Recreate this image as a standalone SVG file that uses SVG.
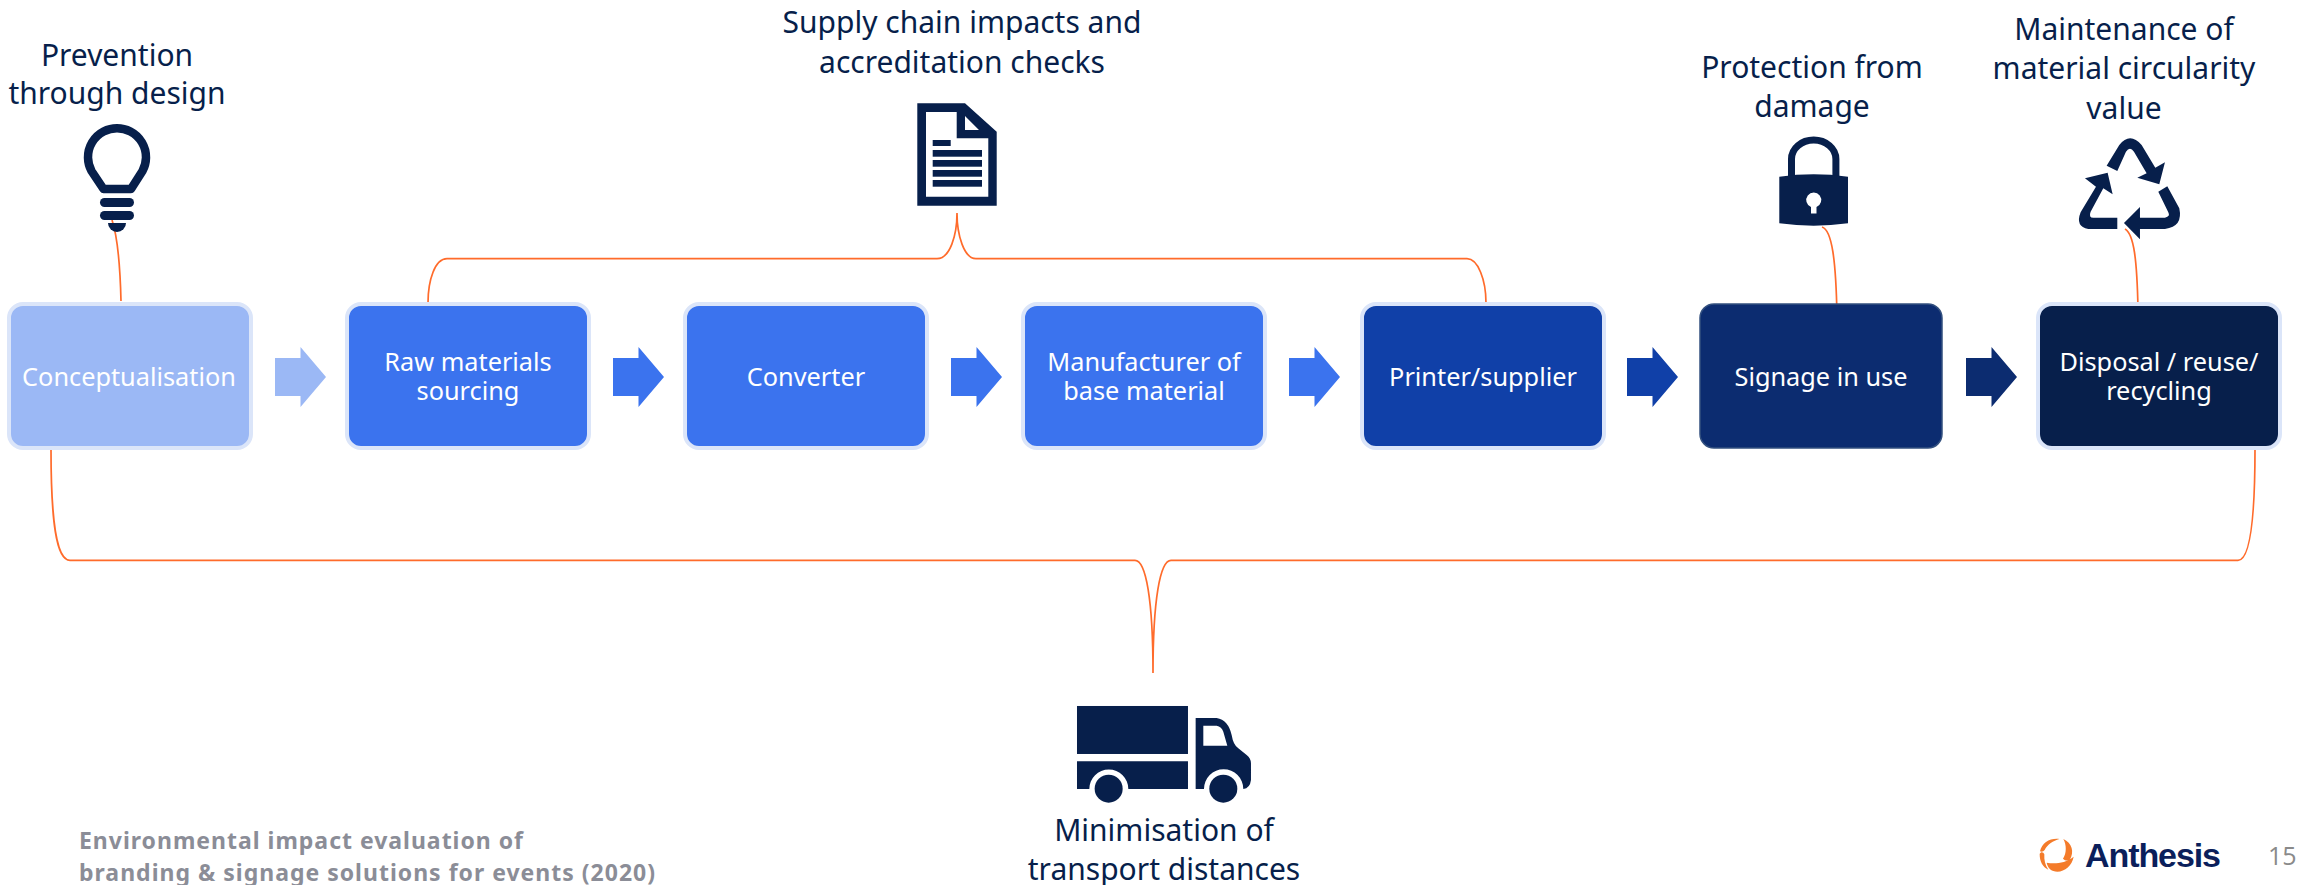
<svg xmlns="http://www.w3.org/2000/svg" width="2298" height="885" viewBox="0 0 2298 885">
<style>
.box{stroke:#dbe5f9;stroke-width:4}
.lbl{font-family:"Noto Sans","DejaVu Sans",sans-serif;font-size:30px;fill:#071f4b;text-anchor:middle}
.bt{font-family:"Noto Sans","DejaVu Sans",sans-serif;font-size:25.3px;fill:#fff;text-anchor:middle}
.ft{font-family:"Noto Sans","DejaVu Sans",sans-serif;font-size:23px;font-weight:bold;fill:#8b8d97}
.ic{fill:#071f4b}
.con{fill:none;stroke:#ff6b2b;stroke-width:1.7}
</style>
<defs>
<path id="arr" d="M0,-19 H25.500 V-30 L51,0 L25.500,30 V19 H0 Z"/>
</defs>
<rect width="2298" height="885" fill="#fff"/>
<g id="connectors">
<path class="con" d="M112,220 C116,232 120,260 121,301"/>
<path class="con" d="M428,303 C428,280 435,258.700 447,258.700 H937 C950,258.700 957,235 957,213 C957,235 964,258.700 976,258.700 H1467 C1478,258.700 1486,280 1486,303"/>
<path class="con" d="M1822,227 C1832,230 1836,260 1837,317"/>
<path class="con" d="M2125,229 C2134,234 2137,260 2138,309"/>
<path class="con" d="M51,449 C51,520 56,560.300 70,560.300 H1135 C1146,560.300 1153,600 1153,673 C1153,600 1160,560.300 1171,560.300 H2238 C2250,560.300 2255,520 2255,449"/>
</g>
<g id="flow-arrows">
<use href="#arr" x="275" y="377" fill="#9bb8f5"/>
<use href="#arr" x="613" y="377" fill="#3b73ee"/>
<use href="#arr" x="951" y="377" fill="#3b73ee"/>
<use href="#arr" x="1289" y="377" fill="#3b73ee"/>
<use href="#arr" x="1627" y="377" fill="#1040a8"/>
<use href="#arr" x="1966" y="377" fill="#0c2c70"/>
</g>
<g id="n1"><rect class="box" x="9" y="304" width="242" height="144" rx="14" fill="#9bb8f5"/><text class="bt" x="129" y="386">Conceptualisation</text></g>
<g id="n2"><rect class="box" x="347" y="304" width="242" height="144" rx="14" fill="#3b73ee"/><text class="bt" y="371"><tspan x="468">Raw materials</tspan><tspan x="468" dy="29">sourcing</tspan></text></g>
<g id="n3"><rect class="box" x="685" y="304" width="242" height="144" rx="14" fill="#3b73ee"/><text class="bt" x="806" y="386">Converter</text></g>
<g id="n4"><rect class="box" x="1023" y="304" width="242" height="144" rx="14" fill="#3b73ee"/><text class="bt" y="371"><tspan x="1144">Manufacturer of</tspan><tspan x="1144" dy="29">base material</tspan></text></g>
<g id="n5"><rect class="box" x="1362" y="304" width="242" height="144" rx="14" fill="#1040a8"/><text class="bt" x="1483" y="386">Printer/supplier</text></g>
<g id="n6"><rect x="1700" y="304" width="242" height="144" rx="14" fill="#0c2c70" stroke="#33507f" stroke-width="1.500"/><text class="bt" x="1821" y="386">Signage in use</text></g>
<g id="n7"><rect class="box" x="2038" y="304" width="242" height="144" rx="14" fill="#071f4b"/><text class="bt" y="371"><tspan x="2159">Disposal / reuse/</tspan><tspan x="2159" dy="29">recycling</tspan></text></g>
<g id="prevention">
<text class="lbl" x="117" y="66">Prevention</text><text class="lbl" x="117" y="104">through design</text>
<path d="M103.500,189 L91.500,171 A29,29 0 1 1 142.500,171 L131,189 Z" fill="none" stroke="#071f4b" stroke-width="8.500" stroke-linejoin="round"/>
<rect class="ic" x="100" y="198" width="34" height="9" rx="4.500"/><rect class="ic" x="100" y="211" width="34" height="9" rx="4.500"/>
<path class="ic" d="M108,223 H126 A9,9 0 0 1 108,223 Z"/>
</g>
<g id="supply">
<text class="lbl" x="962" y="33">Supply chain impacts and</text><text class="lbl" x="962" y="73">accreditation checks</text>
<path class="ic" fill-rule="evenodd" d="M917.300,103.300 H965 L996.700,131.700 V205.700 H917.300 Z M926,112 V196.700 H988.300 V138.300 H956.700 V112 Z M965,116 V130 H979 Z"/>
<rect class="ic" x="932.700" y="140" width="18" height="6"/>
<rect class="ic" x="932.700" y="150" width="49.300" height="6.700"/><rect class="ic" x="932.700" y="160" width="49.300" height="6.700"/><rect class="ic" x="932.700" y="170" width="49.300" height="6.700"/><rect class="ic" x="932.700" y="180" width="49.300" height="6.700"/>
</g>
<g id="protection">
<text class="lbl" x="1812" y="78">Protection from</text><text class="lbl" x="1812" y="117">damage</text>
<path d="M1791.500,177 V159 A22.200,19 0 0 1 1835.900,159 V177" fill="none" stroke="#071f4b" stroke-width="7"/>
<path class="ic" fill-rule="evenodd" d="M1779.300,176.700 Q1813.700,172 1848,176.700 V223.300 Q1813.700,228 1779.300,223.300 Z M1811,207 V213.500 H1816.500 V207 A7.500,7.500 0 1 0 1811,207 Z"/>
</g>
<g id="circularity">
<text class="lbl" x="2124" y="40">Maintenance of</text><text class="lbl" x="2124" y="79">material circularity</text><text class="lbl" x="2124" y="119">value</text>
<g transform="translate(1760,125) scale(0.3333)" class="ic">
<path d="M1040,122 L1078,60 Q1110,20 1145,60 L1186,128 L1215,112 L1198,178 L1132,158 L1160,145 L1122,80 Q1110,62 1098,80 L1072,138 Z"/>
<path d="M1072,312 H985 Q945,305 962,262 L1008,185 L975,160 L1043,143 L1058,208 L1030,190 L992,260 Q985,278 1000,278 H1072 Z"/>
<path d="M1195,200 L1222,184 L1258,250 Q1270,305 1215,312 H1140 V343 L1092,294 L1140,246 V278 H1215 Q1232,275 1225,262 Z"/>
</g>
</g>
<g id="transport">
<g transform="translate(1000,540) scale(0.3333)" class="ic">
<rect x="231" y="498" width="333" height="144"/>
<path d="M231,664 H564 V747 H385 A58,58 0 0 0 268,747 H231 Z"/>
<circle cx="326" cy="746" r="42"/>
<path fill-rule="evenodd" d="M587,534 H650 Q685,540 695,585 Q700,615 715,625 L740,645 Q753,655 753,670 V720 Q750,745 730,747 A58,58 0 0 0 612,747 H587 Z M610,557 V617 H682 L670,575 Q665,560 650,557 Z"/>
<circle cx="670" cy="746" r="42"/>
</g>
<text class="lbl" x="1164" y="841">Minimisation of</text><text class="lbl" x="1164" y="880">transport distances</text>
</g>
<g id="footer"><text class="ft" x="79" y="849" textLength="444">Environmental impact evaluation of</text><text class="ft" x="79" y="881" textLength="576">branding &amp; signage solutions for events (2020)</text></g>
<g id="logo">
<g transform="translate(2030,830) scale(0.3333)" fill="#f47b2a">
<path d="M30,64 C36,38 60,24 88,27 C70,33 52,43 44,60 Q38,68 30,64 Z"/>
<path d="M100,27 C126,38 134,66 119,90 C112,94 104,91 99,86 C110,70 110,45 100,27 Z"/>
<path d="M50,98 C75,103 105,100 131,80 C126,110 96,132 70,123 C58,119 52,108 50,98 Z"/>
<path d="M29,72 C29,95 38,111 55,119 C45,105 42,90 43,73 C40,65 32,65 29,72 Z"/>
</g>
<text x="2085" y="867" font-family="Liberation Sans,sans-serif" font-weight="bold" font-size="34" fill="#0b1f5b" textLength="136">Anthesis</text>
<text x="2268" y="865" font-family="Open Sans,sans-serif" font-size="25" fill="#8a8a8a">15</text>
</g>
</svg>
